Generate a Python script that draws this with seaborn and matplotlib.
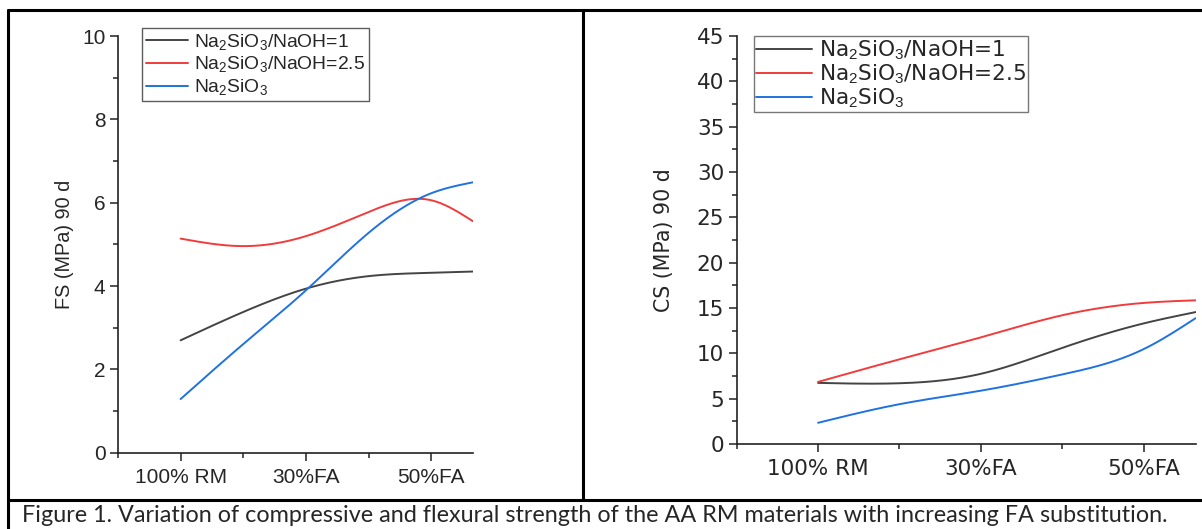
import numpy as np
import matplotlib
matplotlib.use("Agg")
import matplotlib.pyplot as plt
import seaborn as sns
from matplotlib.lines import Line2D
from matplotlib.ticker import MultipleLocator

# categories on the x axis (positions 0, 1, 2)
categorias = ["100% RM", "30%FA", "50%FA"]
series = [r"Na$_2$SiO$_3$/NaOH=1", r"Na$_2$SiO$_3$/NaOH=2.5", r"Na$_2$SiO$_3$"]
cores = ["#444444", "#f03c3c", "#1f72e0"]

# values at x = 0, 0.5, 1, 1.5, 2 and the right edge
x_fs = [0, 0.5, 1, 1.5, 2, 2.33]
fs_1 = [2.70, 3.38, 3.94, 4.24, 4.32, 4.35]
fs_25 = [5.14, 4.96, 5.20, 5.78, 6.06, 5.56]
fs_ns = [1.29, 2.61, 3.90, 5.28, 6.23, 6.49]

x_cs = [0, 0.5, 1, 1.5, 2, 2.32]
cs_1 = [6.74, 6.70, 7.74, 10.6, 13.3, 14.55]
cs_25 = [6.85, 9.34, 11.76, 14.2, 15.56, 15.85]
cs_ns = [2.34, 4.39, 5.88, 7.67, 10.46, 13.88]


def suaviza(xs, ys, n=300):
    # natural cubic spline, like the smoothed lines of the original
    xs = np.asarray(xs, float)
    ys = np.asarray(ys, float)
    k = len(xs)
    h = np.diff(xs)
    A = np.zeros((k, k))
    b = np.zeros(k)
    A[0, 0] = A[-1, -1] = 1
    for i in range(1, k - 1):
        A[i, i - 1] = h[i - 1]
        A[i, i] = 2 * (h[i - 1] + h[i])
        A[i, i + 1] = h[i]
        b[i] = 6 * ((ys[i + 1] - ys[i]) / h[i] - (ys[i] - ys[i - 1]) / h[i - 1])
    M = np.linalg.solve(A, b)
    xx = np.linspace(xs[0], xs[-1], n)
    idx = np.clip(np.searchsorted(xs, xx) - 1, 0, k - 2)
    x0, x1 = xs[idx], xs[idx + 1]
    hh = x1 - x0
    t0, t1 = x1 - xx, xx - x0
    yy = (M[idx] * t0 ** 3 + M[idx + 1] * t1 ** 3) / (6 * hh) \
        + (ys[idx] / hh - M[idx] * hh / 6) * t0 \
        + (ys[idx + 1] / hh - M[idx + 1] * hh / 6) * t1
    return xx, yy


def painel(ax, xs, valores, ylim, major, minor, ylabel, fonte, tam, tam_y, pad_y, xmax):
    for ys, cor, nome in zip(valores, cores, series):
        xx, yy = suaviza(xs, ys)
        sns.lineplot(x=xx, y=yy, color=cor, linewidth=1.4, ax=ax, label=nome)
    ax.set_xlim(-0.5, xmax)
    ax.set_ylim(*ylim)
    ax.set_xticks(range(len(categorias)))
    ax.set_xticklabels(categorias, fontfamily=fonte, fontsize=tam)
    ax.xaxis.set_minor_locator(MultipleLocator(0.5))
    ax.yaxis.set_major_locator(MultipleLocator(major))
    ax.yaxis.set_minor_locator(MultipleLocator(minor))
    for lab in ax.get_yticklabels():
        lab.set_fontfamily(fonte)
        lab.set_fontsize(tam)
    ax.set_ylabel(ylabel, fontfamily=fonte, fontsize=tam_y, labelpad=pad_y)
    ax.set_xlabel("")
    for s in ["top", "right"]:
        ax.spines[s].set_visible(False)
    for s in ["left", "bottom"]:
        ax.spines[s].set_linewidth(1.2)
        ax.spines[s].set_color("#222222")
    ax.tick_params(which="both", bottom=True, left=True, direction="out",
                   color="#222222", width=1.1)
    ax.tick_params(which="major", length=6, pad=3)
    ax.tick_params(which="minor", length=3.5)
    ax.tick_params(axis="x", which="both", pad=5)
    ax.set_facecolor("white")


sns.set_theme(style="white")
plt.rcParams["font.family"] = ["Liberation Sans", "DejaVu Sans"]
plt.rcParams["mathtext.fontset"] = "custom"
plt.rcParams["mathtext.rm"] = "Liberation Sans"
plt.rcParams["mathtext.it"] = "Liberation Sans"

fig = plt.figure(figsize=(12.02, 5.29), dpi=100)

ax1 = fig.add_axes([0.0981, 0.144, 0.2957, 0.7878])
painel(ax1, x_fs, [fs_1, fs_25, fs_ns], (0, 10), 2, 1,
       "FS (MPa) 90 d", "Liberation Sans", 15, 14.3, 6, 2.335)
leg1 = ax1.legend(loc="upper left", bbox_to_anchor=(0.068, 1.02), fontsize=13.9,
                  frameon=True, fancybox=False, edgecolor="#333333",
                  borderpad=0.2, labelspacing=0.15, handlelength=2.2,
                  handletextpad=0.3, borderaxespad=0)
leg1.get_frame().set_linewidth(1.0)

ax2 = fig.add_axes([0.6129, 0.1607, 0.3818, 0.7711])
painel(ax2, x_cs, [cs_1, cs_25, cs_ns], (0, 45), 5, 2.5,
       "CS (MPa) 90 d", "DejaVu Sans", 15.5, 14.8, 16, 2.32)
leg2 = ax2.legend(loc="upper left", bbox_to_anchor=(0.037, 1.0), fontsize=15.6,
                  frameon=True, fancybox=False, edgecolor="#555555",
                  borderpad=0.1, labelspacing=0.02, handlelength=2.6,
                  handletextpad=0.3, borderaxespad=0)
leg2.get_frame().set_linewidth(1.0)
for t in leg2.get_texts():
    t.set_fontfamily("DejaVu Sans")

# table-like frame around the two panels and the caption
ln = dict(color="black", linewidth=2.2, transform=fig.transFigure)
y_top = 1 - 10 / 529
y_cap = 1 - 500 / 529
x_left = 7.7 / 1202
x_mid = 582.5 / 1202
fig.add_artist(Line2D([x_left, 1.0], [y_top, y_top], **ln))
fig.add_artist(Line2D([x_left, x_left], [0, y_top], **ln))
fig.add_artist(Line2D([x_left, 1.0], [y_cap, y_cap], **ln))
fig.add_artist(Line2D([x_mid, x_mid], [y_cap, y_top], **ln))

fig.text(595 / 1202, 1 - 515 / 529,
         "Figure 1. Variation of compressive and flexural strength of the AA RM "
         "materials with increasing FA substitution.",
         ha="center", va="center", fontsize=16.8, fontfamily="Lato")

fig.savefig("out.png", dpi=100, facecolor="white")
